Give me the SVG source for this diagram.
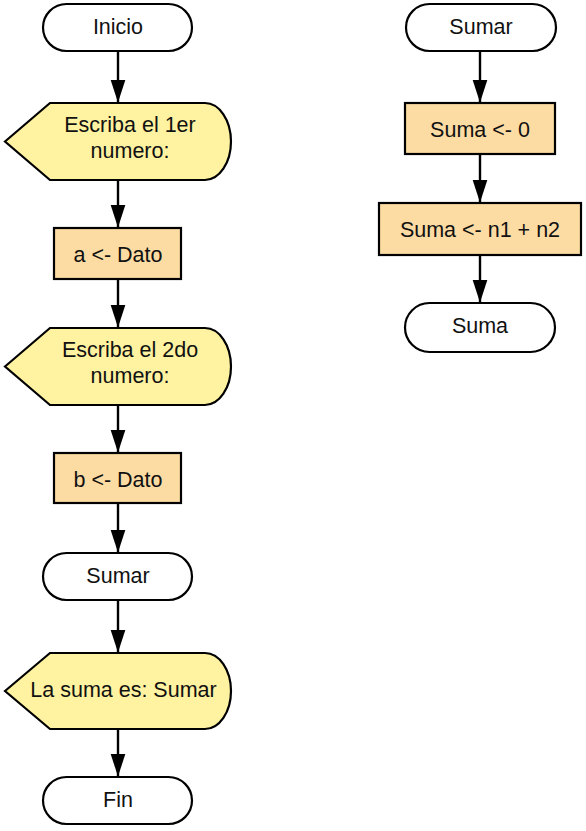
<svg xmlns="http://www.w3.org/2000/svg" width="586" height="831" viewBox="0 0 586 831">
<style>
.term{fill:#ffffff;stroke:#000000;stroke-width:2.2}
.disp{fill:#fff2a0;stroke:#000000;stroke-width:2.2}
.proc{fill:#fddca4;stroke:#000000;stroke-width:2.2}
.edge{stroke:#000000;stroke-width:2.4;fill:none}
text{font-family:"Liberation Sans",Arial,sans-serif;font-size:21.5px;fill:#111111;text-anchor:middle}
</style>
<defs>
<marker id="ah" markerUnits="userSpaceOnUse" markerWidth="24" markerHeight="16" refX="23" refY="7.5" orient="auto">
<path d="M0,0 L23,7.5 L0,15 Z" fill="#000000"/>
</marker>
</defs>
<rect width="586" height="831" fill="#ffffff"/>
<g id="connectors">
<line class="edge" x1="118" y1="51" x2="118" y2="102.5" marker-end="url(#ah)"/>
<line class="edge" x1="118" y1="180" x2="118" y2="227.5" marker-end="url(#ah)"/>
<line class="edge" x1="118" y1="279" x2="118" y2="327.5" marker-end="url(#ah)"/>
<line class="edge" x1="118" y1="405" x2="118" y2="452.5" marker-end="url(#ah)"/>
<line class="edge" x1="118" y1="503" x2="118" y2="552.5" marker-end="url(#ah)"/>
<line class="edge" x1="118" y1="600" x2="118" y2="652.5" marker-end="url(#ah)"/>
<line class="edge" x1="118" y1="729" x2="118" y2="776.5" marker-end="url(#ah)"/>
<line class="edge" x1="480" y1="51" x2="480" y2="102.5" marker-end="url(#ah)"/>
<line class="edge" x1="480" y1="154" x2="480" y2="202.5" marker-end="url(#ah)"/>
<line class="edge" x1="480" y1="255" x2="480" y2="302.5" marker-end="url(#ah)"/>
</g>
<g id="inicio">
<rect class="term" x="43" y="4" width="149" height="47" rx="23.5"/>
<text x="118" y="34">Inicio</text>
</g>
<g id="escriba1">
<path class="disp" d="M5,141.5 L50,103 H205 A26,38.5 0 0 1 205,180 H50 Z"/>
<text x="130" y="132">Escriba el 1er</text>
<text x="130" y="158">numero:</text>
</g>
<g id="a-dato">
<rect class="proc" x="54" y="228" width="127" height="51"/>
<text x="118" y="262">a &lt;- Dato</text>
</g>
<g id="escriba2">
<path class="disp" d="M5,366.5 L50,328 H205 A26,38.5 0 0 1 205,405 H50 Z"/>
<text x="130" y="357">Escriba el 2do</text>
<text x="130" y="383">numero:</text>
</g>
<g id="b-dato">
<rect class="proc" x="54" y="453" width="127" height="50"/>
<text x="118" y="487">b &lt;- Dato</text>
</g>
<g id="sumar-call">
<rect class="term" x="43" y="553" width="149" height="47" rx="23.5"/>
<text x="118" y="583">Sumar</text>
</g>
<g id="la-suma">
<path class="disp" d="M5,691 L50,653 H205 A26,38 0 0 1 205,729 H50 Z"/>
<text x="123.5" y="697">La suma es: Sumar</text>
</g>
<g id="fin">
<rect class="term" x="43" y="777" width="149" height="47" rx="23.5"/>
<text x="118" y="807">Fin</text>
</g>
<g id="sumar">
<rect class="term" x="406" y="4" width="150" height="47" rx="23.5"/>
<text x="481" y="34">Sumar</text>
</g>
<g id="suma-0">
<rect class="proc" x="405" y="103" width="150" height="51"/>
<text x="480" y="137">Suma &lt;- 0</text>
</g>
<g id="suma-n1n2">
<rect class="proc" x="379" y="203" width="202" height="52"/>
<text x="480" y="237">Suma &lt;- n1 + n2</text>
</g>
<g id="suma">
<rect class="term" x="405" y="303" width="150" height="49" rx="24.5"/>
<text x="480" y="333">Suma</text>
</g>
</svg>
